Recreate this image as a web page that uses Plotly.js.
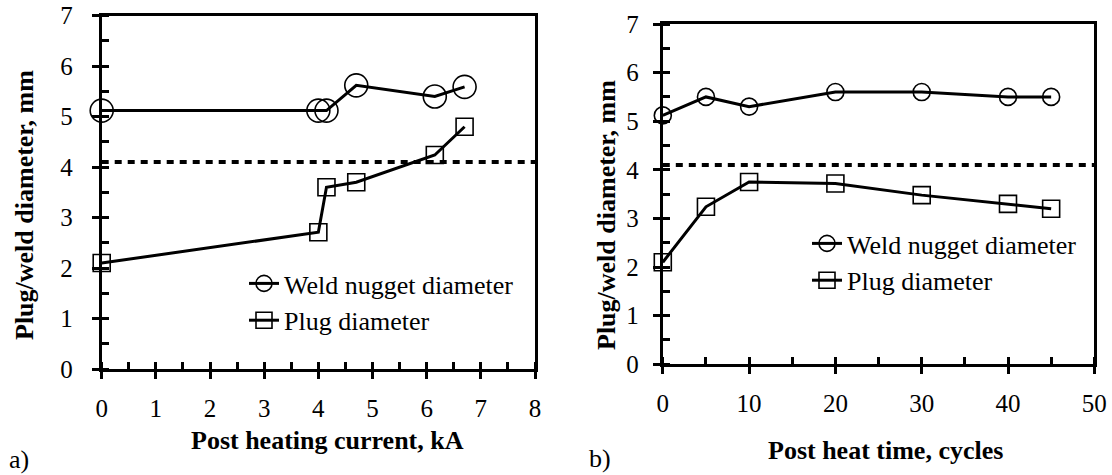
<!DOCTYPE html>
<html><head><meta charset="utf-8">
<script src="https://cdn.plot.ly/plotly-3.0.1.min.js"></script>
<style>html,body{margin:0;padding:0;background:#fff;} #chart{width:1112px;height:475px;}</style>
</head><body><div id="chart"></div>
<script>
// Panel a) post heating current, kA
const currentKA = [0, 4.0, 4.15, 4.7, 6.15, 6.7];
const weldNuggetA = [5.12, 5.12, 5.12, 5.62, 5.4, 5.59];
const plugDiameterA = [2.1, 2.71, 3.6, 3.7, 4.24, 4.8];
// Panel b) post heat time, cycles
const heatTimeCycles = [0, 5, 10, 20, 30, 40, 45];
const weldNuggetB = [5.12, 5.5, 5.3, 5.6, 5.6, 5.5, 5.5];
const plugDiameterB = [2.1, 3.24, 3.75, 3.72, 3.48, 3.3, 3.2];
// Minimum plug size reference (dotted line)
const thresholdDiameter = 4.1;
const xRangeA = [0, 8];
const xRangeB = [0, 50];
const yRange = [0, 7];
const seriesNames = ['Weld nugget diameter', 'Plug diameter'];
const axisTitles = ['Post heating current, kA', 'Post heat time, cycles', 'Plug/weld diameter, mm'];
const panelLabels = ['a)', 'b)'];

const W = 1112, H = 475;
const FONT = 'Liberation Serif';
const BLACK = '#000';
const px = v => v / W;
const py = v => 1 - v / H;

function series(x, y, name, sym, size, xa, ya, leg) {
  return {x: x, y: y, name: name, type: 'scatter', mode: 'lines+markers',
    xaxis: xa, yaxis: ya, legend: leg, cliponaxis: false,
    line: {color: BLACK, width: 3},
    marker: {symbol: sym, size: size, color: BLACK, line: {color: BLACK, width: 1.6}}};
}
function thresh(range, xa, ya) {
  return {x: range, y: [thresholdDiameter, thresholdDiameter], type: 'scatter', mode: 'lines',
    xaxis: xa, yaxis: ya, showlegend: false, hoverinfo: 'skip', cliponaxis: false,
    line: {color: BLACK, width: 4, dash: '7px,6px'}};
}
const data = [
  thresh(xRangeA, 'x', 'y'),
  series(currentKA, weldNuggetA, seriesNames[0], 'circle-open', 23, 'x', 'y', 'legend'),
  series(currentKA, plugDiameterA, seriesNames[1], 'square-open', 17, 'x', 'y', 'legend'),
  thresh(xRangeB, 'x2', 'y2'),
  series(heatTimeCycles, weldNuggetB, seriesNames[0], 'circle-open', 17, 'x2', 'y2', 'legend2'),
  series(heatTimeCycles, plugDiameterB, seriesNames[1], 'square-open', 17, 'x2', 'y2', 'legend2')
];

const tickFont = {family: FONT, size: 25, color: BLACK};
function mainAxis(extra, minorDtick) {
  return Object.assign({showline: true, linewidth: 3, linecolor: BLACK, mirror: true,
    ticks: 'outside', ticklen: 7, tickwidth: 3, tickcolor: BLACK, showgrid: false, zeroline: false,
    tickfont: tickFont, fixedrange: true, tick0: 0,
    minor: {ticks: 'inside', dtick: minorDtick, tick0: 0, ticklen: 7, tickwidth: 3, tickcolor: BLACK, showgrid: false}
  }, extra);
}
const legendBase = {font: {family: FONT, size: 26, color: BLACK}, bgcolor: 'rgba(0,0,0,0)',
  borderwidth: 0, xanchor: 'left', yanchor: 'top', tracegroupgap: 0, traceorder: 'normal'};
const titleFont = {family: FONT, size: 26, color: BLACK, weight: 'bold'};
function ann(text, x, y, font, angle) {
  return {text: text, x: px(x), y: py(y), xref: 'paper', yref: 'paper', showarrow: false,
    xanchor: 'center', yanchor: 'middle', font: font, textangle: angle || 0};
}

const layout = {
  width: W, height: H, margin: {l: 0, r: 0, t: 0, b: 0},
  paper_bgcolor: '#fff', plot_bgcolor: 'rgba(0,0,0,0)', showlegend: true,
  xaxis: mainAxis({domain: [px(101.7), px(535)], range: xRangeA, dtick: 1, anchor: 'y', ticklabelstandoff: 8}, 0.5),
  yaxis: mainAxis({domain: [py(369), py(15.7)], range: yRange, dtick: 1, anchor: 'x', ticklabelstandoff: 14}, 0.5),
  xaxis2: mainAxis({domain: [px(662.8), px(1094.3)], range: xRangeB, dtick: 10, anchor: 'y2', ticklabelstandoff: 8}, 5),
  yaxis2: mainAxis({domain: [py(364.3), py(24)], range: yRange, dtick: 1, anchor: 'x2', ticklabelstandoff: 9}, 0.5),
  legend: Object.assign({x: px(244), y: py(260)}, legendBase),
  legend2: Object.assign({x: px(807), y: py(220)}, legendBase),
  annotations: [
    ann(axisTitles[0], 327, 440, titleFont),
    ann(axisTitles[1], 885, 450, titleFont),
    ann(axisTitles[2], 24, 205, titleFont, -90),
    ann(axisTitles[2], 606, 215, titleFont, -90),
    ann(panelLabels[0], 19, 459, {family: FONT, size: 26, color: BLACK}),
    ann(panelLabels[1], 600, 458, {family: FONT, size: 26, color: BLACK})
  ]
};
Plotly.newPlot('chart', data, layout, {displayModeBar: false, staticPlot: true});
</script></body></html>
